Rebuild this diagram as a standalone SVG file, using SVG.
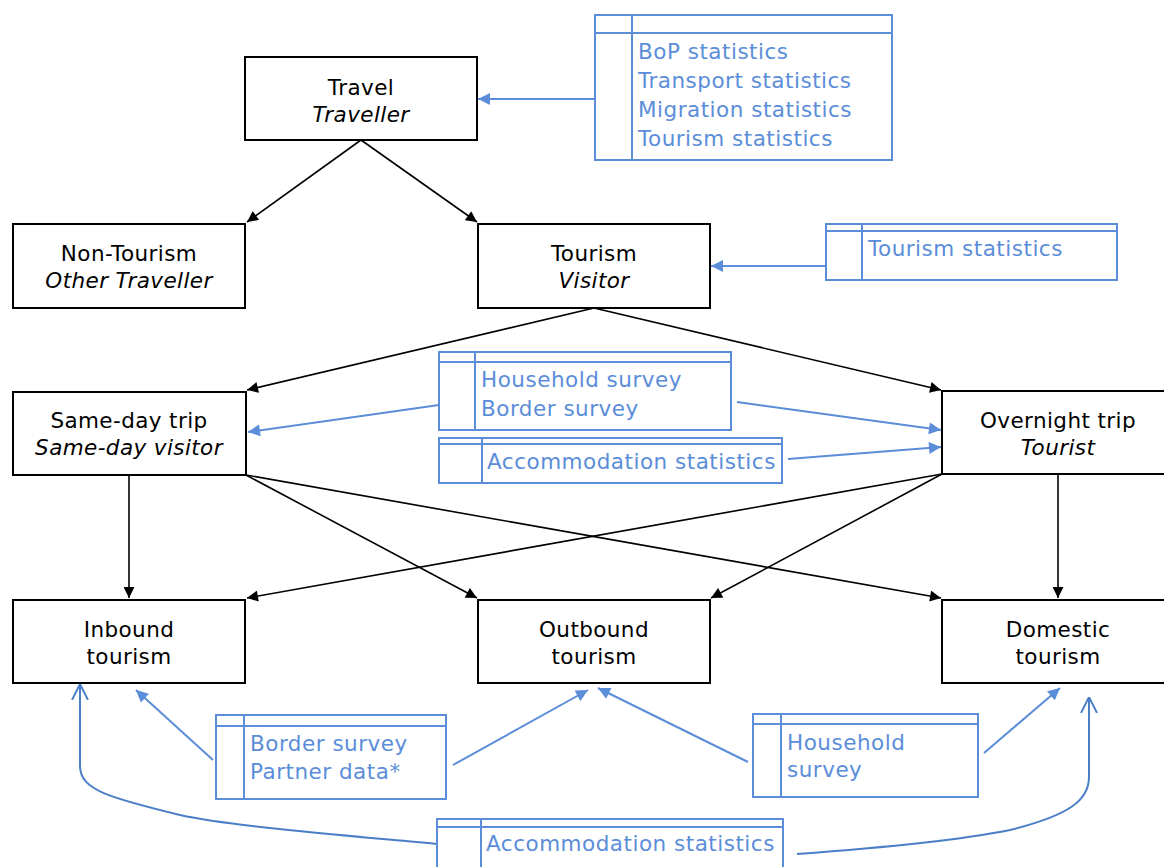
<svg xmlns="http://www.w3.org/2000/svg" width="1164" height="867" viewBox="0 0 1164 867">
<defs>
<style>
.node{fill:#fff;stroke:#000;stroke-width:2}
.t{font-family:"DejaVu Sans",Verdana,sans-serif;font-size:21.5px;fill:#000;text-anchor:middle;letter-spacing:0.4px}
.i{font-style:italic}
.src{fill:#fff;stroke:#5b8dd9;stroke-width:2}
.sl{stroke:#5b8dd9;stroke-width:2;fill:none}
.st{font-family:"DejaVu Sans",Verdana,sans-serif;font-size:21.5px;fill:#5b8dd9;letter-spacing:0.5px}
.k{stroke:#000;stroke-width:1.6;fill:none;marker-end:url(#ak)}
.b{stroke:#5b8dd9;stroke-width:2;fill:none;marker-end:url(#ab)}
.bo{stroke:#4a7fc8;stroke-width:2;fill:none;marker-end:url(#ao)}
</style>
<marker id="ak" viewBox="0 0 10 10" refX="10" refY="5" markerWidth="13" markerHeight="11" markerUnits="userSpaceOnUse" orient="auto"><path d="M0,0 L10,5 L0,10 z" fill="#000"/></marker>
<marker id="ab" viewBox="0 0 10 10" refX="10" refY="5" markerWidth="14" markerHeight="12" markerUnits="userSpaceOnUse" orient="auto"><path d="M0,0 L10,5 L0,10 z" fill="#5b8dd9"/></marker>
<marker id="ao" viewBox="0 0 10 10" refX="10" refY="5" markerWidth="16" markerHeight="18" markerUnits="userSpaceOnUse" orient="auto"><path d="M0,0 L10,5 L0,10" fill="none" stroke="#4a7fc8" stroke-width="1.2"/></marker>
</defs>

<g id="connectors">
<line class="k" x1="361" y1="140" x2="247" y2="222"/>
<line class="k" x1="361" y1="140" x2="477" y2="222"/>
<line class="k" x1="594" y1="308" x2="247" y2="390"/>
<line class="k" x1="594" y1="308" x2="941" y2="390"/>
<line class="k" x1="129" y1="475" x2="129" y2="598"/>
<line class="k" x1="246" y1="475" x2="477" y2="598"/>
<line class="k" x1="246" y1="475" x2="941" y2="598"/>
<line class="k" x1="942" y1="474" x2="247" y2="598"/>
<line class="k" x1="942" y1="474" x2="711" y2="598"/>
<line class="k" x1="1058" y1="474" x2="1058" y2="598"/>
<line class="b" x1="595" y1="99" x2="478" y2="99"/>
<line class="b" x1="826" y1="266" x2="711" y2="266"/>
<line class="b" x1="439" y1="405" x2="248" y2="432"/>
<line class="b" x1="737" y1="402" x2="941" y2="430"/>
<line class="b" x1="788" y1="459" x2="941" y2="447"/>
<line class="b" x1="213" y1="760" x2="136" y2="690"/>
<line class="b" x1="453" y1="765" x2="588" y2="690"/>
<line class="b" x1="748" y1="762" x2="598" y2="688"/>
<line class="b" x1="984" y1="753" x2="1060" y2="688"/>
<path class="bo" d="M437,844 C330,834 230,826 180,815 C110,798 80,790 80,766 L80,684"/>
<path class="bo" d="M797,854 C880,848 960,840 1010,830 C1070,815 1089,800 1089,777 L1089,697"/>
</g>

<g id="travel"><rect class="node" x="245" y="57" width="232" height="83"/><text class="t" x="361" y="95">Travel</text><text class="t i" x="361" y="122">Traveller</text></g>
<g id="non-tourism"><rect class="node" x="13" y="224" width="232" height="84"/><text class="t" x="129" y="261">Non-Tourism</text><text class="t i" x="129" y="288">Other Traveller</text></g>
<g id="tourism"><rect class="node" x="478" y="224" width="232" height="84"/><text class="t" x="594" y="261">Tourism</text><text class="t i" x="594" y="288">Visitor</text></g>
<g id="same-day"><rect class="node" x="13" y="392" width="233" height="83"/><text class="t" x="129" y="428">Same-day trip</text><text class="t i" x="129" y="455">Same-day visitor</text></g>
<g id="overnight"><rect class="node" x="942" y="391" width="232" height="83"/><text class="t" x="1058" y="428">Overnight trip</text><text class="t i" x="1058" y="455">Tourist</text></g>
<g id="inbound"><rect class="node" x="13" y="600" width="232" height="83"/><text class="t" x="129" y="637">Inbound</text><text class="t" x="129" y="664">tourism</text></g>
<g id="outbound"><rect class="node" x="478" y="600" width="232" height="83"/><text class="t" x="594" y="637">Outbound</text><text class="t" x="594" y="664">tourism</text></g>
<g id="domestic"><rect class="node" x="942" y="600" width="232" height="83"/><text class="t" x="1058" y="637">Domestic</text><text class="t" x="1058" y="664">tourism</text></g>

<g id="src-travel"><rect class="src" x="595" y="15" width="297" height="145"/><line class="sl" x1="595" y1="33" x2="892" y2="33"/><line class="sl" x1="632" y1="15" x2="632" y2="160"/>
<text class="st" x="638" y="59">BoP statistics</text><text class="st" x="638" y="88">Transport statistics</text><text class="st" x="638" y="117">Migration statistics</text><text class="st" x="638" y="146">Tourism statistics</text></g>
<g id="src-tourism"><rect class="src" x="826" y="224" width="291" height="56"/><line class="sl" x1="826" y1="231" x2="1117" y2="231"/><line class="sl" x1="862" y1="224" x2="862" y2="280"/>
<text class="st" x="868" y="256">Tourism statistics</text></g>
<g id="src-hh-border"><rect class="src" x="439" y="352" width="292" height="78"/><line class="sl" x1="439" y1="362" x2="731" y2="362"/><line class="sl" x1="475" y1="352" x2="475" y2="430"/>
<text class="st" x="481" y="387">Household survey</text><text class="st" x="481" y="416">Border survey</text></g>
<g id="src-accom-mid"><rect class="src" x="439" y="438" width="343" height="45"/><line class="sl" x1="439" y1="444" x2="782" y2="444"/><line class="sl" x1="482" y1="438" x2="482" y2="483"/>
<text class="st" x="487" y="469">Accommodation statistics</text></g>
<g id="src-border-partner"><rect class="src" x="216" y="715" width="230" height="84"/><line class="sl" x1="216" y1="726" x2="446" y2="726"/><line class="sl" x1="244" y1="715" x2="244" y2="799"/>
<text class="st" x="250" y="751">Border survey</text><text class="st" x="250" y="779">Partner data*</text></g>
<g id="src-household"><rect class="src" x="753" y="714" width="225" height="83"/><line class="sl" x1="753" y1="724" x2="978" y2="724"/><line class="sl" x1="781" y1="714" x2="781" y2="797"/>
<text class="st" x="787" y="750">Household</text><text class="st" x="787" y="777">survey</text></g>
<g id="src-accom-bottom"><rect class="src" x="437" y="819" width="346" height="60"/><line class="sl" x1="437" y1="827" x2="783" y2="827"/><line class="sl" x1="481" y1="819" x2="481" y2="879"/>
<text class="st" x="486" y="851">Accommodation statistics</text></g>
</svg>
